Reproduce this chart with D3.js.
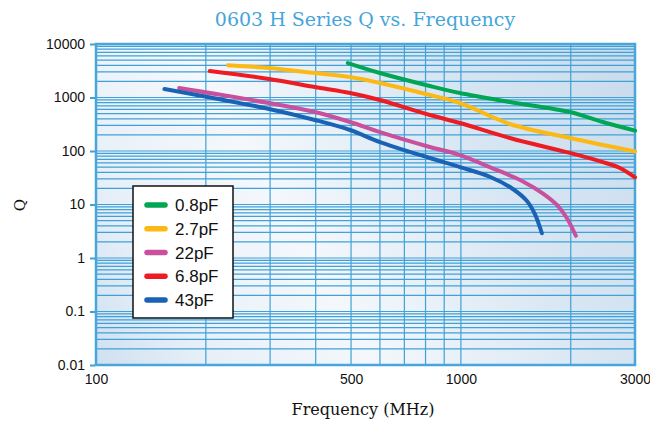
<!DOCTYPE html>
<html><head><meta charset="utf-8">
<script src="https://cdn.jsdelivr.net/npm/d3@7"></script>
<style>body{margin:0;background:#fff}svg{display:block}</style>
</head><body>
<script>
// ---- data ----
const seriesNames = ["0.8pF", "2.7pF", "22pF", "6.8pF", "43pF"];
const seriesColors = ["#00a651", "#fdb913", "#c9509c", "#ed1c24", "#1a62b3"];
const freq08 = [490, 600, 822, 994, 1362, 1989, 2449, 3000];
const q08    = [4400, 2870, 1640, 1213, 824, 535, 348, 240];
const freq27 = [230, 298, 398, 497, 600, 822, 994, 1362, 1989, 3000];
const q27    = [4000, 3550, 2870, 2415, 1866, 1114, 789, 320, 175, 98];
const freq22 = [169, 298, 398, 497, 600, 822, 994, 1200, 1479, 1679, 1833, 1951, 2065];
const q22    = [1506, 789, 535, 348, 226, 119, 84, 50, 27, 16, 9.8, 5.6, 2.6];
const freq68 = [205, 298, 398, 497, 600, 822, 994, 1362, 1989, 2449, 2727, 3000];
const q68    = [3126, 2218, 1570, 1213, 898, 471, 334, 175, 92, 62, 48, 32];
const freq43 = [154, 298, 398, 497, 600, 822, 994, 1200, 1388, 1517, 1595, 1667];
const q43    = [1442, 609, 380, 247, 147, 74, 50, 33, 19.5, 11.6, 6.6, 2.9];
const xTickValues = [100, 500, 1000, 3000];
const yTickValues = [0.01, 0.1, 1, 10, 100, 1000, 10000];
const xGridValues = [200, 300, 400, 500, 600, 700, 800, 900, 1000, 2000];
const titleText = "0603 H Series Q vs. Frequency";
const xTitle = "Frequency (MHz)";
const yTitle = "Q";

const seriesFreq = [freq08, freq27, freq22, freq68, freq43];
const seriesQ = [q08, q27, q22, q68, q43];

// ---- layout ----
const W = 650, H = 425;
const L = 96, R = 635, T = 44, B = 365;
const grid = "#3fa1d7";

const svg = d3.select("body").append("svg").attr("width", W).attr("height", H);
const x = d3.scaleLog().domain([100, 3000]).range([L, R]);
const y = d3.scaleLog().domain([0.01, 10000]).range([B, T]);

const defs = svg.append("defs");
const lg = defs.append("linearGradient").attr("id", "bg")
  .attr("gradientUnits", "userSpaceOnUse")
  .attr("x1", R).attr("y1", T).attr("x2", L).attr("y2", B);
[[0, "#c8dbec"], [0.3, "#d8e6f3"], [0.62, "#f4f8fc"], [0.85, "#e6eff8"], [1, "#cfe0f0"]]
  .forEach(([o, c]) => lg.append("stop").attr("offset", o).attr("stop-color", c));

svg.append("rect").attr("x", L).attr("y", T).attr("width", R - L).attr("height", B - T)
  .attr("fill", "url(#bg)");

// horizontal minor/major grid
const yGrid = [];
for (let e = -2; e < 4; e++) for (let m = 1; m <= 9; m++) yGrid.push(m * Math.pow(10, e));
svg.append("g").selectAll("line").data(yGrid).join("line")
  .attr("x1", L).attr("x2", R).attr("y1", d => y(d)).attr("y2", d => y(d))
  .attr("stroke", grid).attr("stroke-width", 1.2);
svg.append("g").selectAll("line").data(xGridValues).join("line")
  .attr("y1", T).attr("y2", B).attr("x1", d => x(d)).attr("x2", d => x(d))
  .attr("stroke", grid).attr("stroke-width", 1.2);

// border
svg.append("rect").attr("x", L).attr("y", T).attr("width", R - L).attr("height", B - T)
  .attr("fill", "none").attr("stroke", "#48a6da").attr("stroke-width", 2.5);

// axes
const yAxis = d3.axisLeft(y).tickValues(yTickValues).tickSize(5).tickPadding(5)
  .tickFormat(d => String(d));
const gy = svg.append("g").attr("transform", `translate(${L - 1},0)`).call(yAxis);
gy.select(".domain").remove();
gy.selectAll(".tick line").attr("stroke", grid).attr("stroke-width", 2);
gy.selectAll(".tick text").attr("font-family", "Liberation Sans, Arial, sans-serif")
  .attr("font-size", 14).attr("fill", "#111");

const xAxis = d3.axisBottom(x).tickValues(xTickValues).tickSize(0).tickPadding(9)
  .tickFormat(d => String(d));
const gx = svg.append("g").attr("transform", `translate(0,${B})`).call(xAxis);
gx.select(".domain").remove();
gx.selectAll(".tick text").attr("font-family", "Liberation Sans, Arial, sans-serif")
  .attr("font-size", 14).attr("fill", "#111");

// series lines
const line = d3.line().x(d => x(d[0])).y(d => y(d[1])).curve(d3.curveCatmullRom.alpha(0.5));
seriesNames.forEach((name, i) => {
  const pts = seriesFreq[i].map((f, j) => [f, seriesQ[i][j]]);
  svg.append("path").datum(pts).attr("d", line).attr("fill", "none")
    .attr("stroke", seriesColors[i]).attr("stroke-width", 4)
    .attr("stroke-linecap", "round").attr("stroke-linejoin", "round");
});

// titles
svg.append("text").attr("x", 365).attr("y", 26).attr("text-anchor", "middle")
  .attr("font-family", "DejaVu Serif, serif").attr("font-size", 19)
  .attr("fill", "#45a5da").text(titleText);
svg.append("text").attr("x", 363).attr("y", 415).attr("text-anchor", "middle")
  .attr("font-family", "DejaVu Serif, serif").attr("font-size", 16)
  .attr("fill", "#111").text(xTitle);
svg.append("text").attr("transform", "translate(25,205) rotate(-90)").attr("text-anchor", "middle")
  .attr("font-family", "DejaVu Serif, serif").attr("font-size", 15)
  .attr("fill", "#111").text(yTitle);

// legend
const lgG = svg.append("g");
lgG.append("rect").attr("x", 133).attr("y", 186).attr("width", 100).attr("height", 132)
  .attr("fill", "#fff").attr("stroke", "#111").attr("stroke-width", 1.5);
const ly = d3.scalePoint().domain(seriesNames).range([205, 300]);
seriesNames.forEach((name, i) => {
  lgG.append("line").attr("x1", 147).attr("x2", 165).attr("y1", ly(name)).attr("y2", ly(name))
    .attr("stroke", seriesColors[i]).attr("stroke-width", 5.5).attr("stroke-linecap", "round");
  lgG.append("text").attr("x", 175).attr("y", ly(name)).attr("dy", "0.36em")
    .attr("font-family", "Liberation Sans, Arial, sans-serif").attr("font-size", 17)
    .attr("fill", "#111").text(name);
});
</script>
</body></html>
